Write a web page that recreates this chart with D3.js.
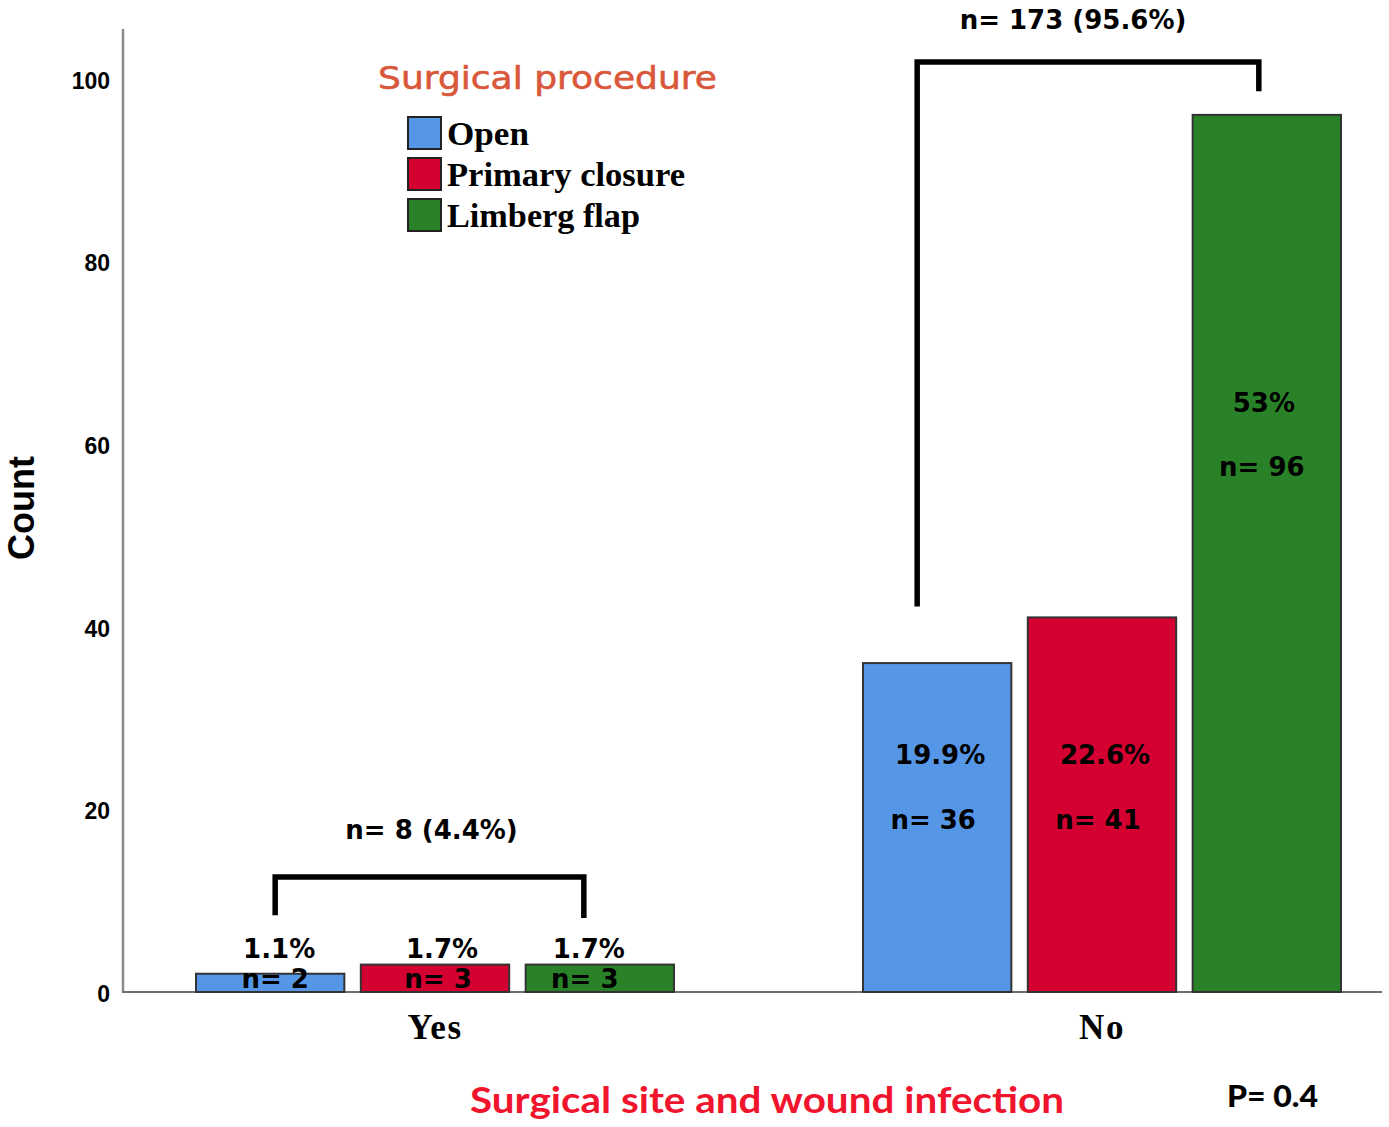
<!DOCTYPE html>
<html><head><meta charset="utf-8">
<script src="https://cdn.jsdelivr.net/npm/d3@7"></script>
<style>body{margin:0;background:#fff}svg{display:block}</style>
</head><body>
<svg id="c" width="1389" height="1127"></svg>
<script>
const groups = ["Yes", "No"];
const series = ["Open", "Primary closure", "Limberg flap"];
const counts = {
  "Yes": [2, 3, 3],
  "No": [36, 41, 96]
};
const percents = {
  "Yes": ["1.1%", "1.7%", "1.7%"],
  "No": ["19.9%", "22.6%", "53%"]
};
const groupTotals = ["n= 8 (4.4%)", "n= 173 (95.6%)"];
const yTicks = [0, 20, 40, 60, 80, 100];
const pValue = "P= 0.4";
const colors = ["#5596e6", "#d50032", "#2a8228"];

const svg = d3.select("#c");
const y = d3.scaleLinear().domain([0, 105.4]).range([992, 29]);
const x0 = d3.scalePoint().domain(groups).range([435, 1102]);
const x1 = d3.scaleBand().domain(series).range([-239, 239]).paddingInner(0.1);
const bw = x1.bandwidth();

// axes lines
svg.append("line").attr("x1", 123).attr("x2", 123).attr("y1", 29).attr("y2", 992)
  .attr("stroke", "#8a8a8a").attr("stroke-width", 2.5);
svg.append("line").attr("x1", 122).attr("x2", 1382).attr("y1", 992).attr("y2", 992)
  .attr("stroke", "#6e6e6e").attr("stroke-width", 2);

// y tick labels
const yAxis = d3.axisLeft(y).tickValues(yTicks).tickSize(0).tickPadding(13);
const ga = svg.append("g").attr("transform", "translate(123,0)").call(yAxis);
ga.select(".domain").remove();
ga.selectAll("text").attr("font-family", "'Liberation Sans', Arial, sans-serif")
  .attr("font-weight", "bold").attr("font-size", 23).attr("fill", "#000")
  .attr("dy", "0.42em");

// y title
svg.append("text").attr("transform", "translate(34,508) rotate(-90)")
  .attr("text-anchor", "middle").attr("font-family", "'Liberation Sans', Arial, sans-serif")
  .attr("font-weight", "bold").attr("font-size", 36).attr("fill", "#000").text("Count");

// bars
groups.forEach((g) => {
  series.forEach((s, si) => {
    const v = counts[g][si];
    svg.append("rect").attr("x", x0(g) + x1(s)).attr("y", y(v)).attr("width", bw)
      .attr("height", y(0) - y(v)).attr("fill", colors[si])
      .attr("stroke", "#333").attr("stroke-width", 2);
  });
});

// bar labels
const labFont = "'DejaVu Sans', Verdana, sans-serif";
function lab(x, yy, t, size) {
  svg.append("text").attr("x", x).attr("y", yy).attr("text-anchor", "middle")
    .attr("font-family", labFont).attr("font-weight", "bold")
    .attr("font-size", size || 26).attr("fill", "#000").text(t);
}
// Yes group: percent above the row of bars, n inside
const yesTop = d3.max(counts["Yes"]);
series.forEach((s, si) => {
  const cx = x0("Yes") + x1(s) + bw / 2;
  const v = counts["Yes"][si];
  const dxs = [9, 7, -11];
  lab(cx + dxs[si], y(yesTop) - 7, percents["Yes"][si]);
  lab(cx + dxs[si] - 4, y(0) - 4, "n= " + v);
});
// No group: labels inside bars
const pctAt = [26, 26, 64.6];
const nAt = [18.9, 18.9, 57.6];
series.forEach((s, si) => {
  const cx = x0("No") + x1(s) + bw / 2;
  const v = counts["No"][si];
  const dxs = [3, 3, -3];
  lab(cx + dxs[si], y(pctAt[si]) + 10, percents["No"][si]);
  lab(cx + dxs[si] - 7 + (si === 2 ? 5 : 0), y(nAt[si]) + 10, "n= " + v);
});

// brackets
function bracket(g, yTop, yL, yR, dl, dr, label, labelY, ldx) {
  const xl = x0(g) + x1(series[0]) + bw / 2 + dl;
  const xr = x0(g) + x1(series[2]) + bw / 2 + dr;
  svg.append("path")
    .attr("d", `M${xl},${y(yL)}V${y(yTop)}H${xr}V${y(yR)}`)
    .attr("fill", "none").attr("stroke", "#000").attr("stroke-width", 5.5);
  svg.append("text").attr("x", (xl + xr) / 2 + ldx).attr("y", y(labelY))
    .attr("text-anchor", "middle").attr("font-family", labFont)
    .attr("font-weight", "bold").attr("font-size", 26).attr("fill", "#000").text(label);
}
bracket("Yes", 12.6, 8.4, 8.1, 5, -16, groupTotals[0], 16.8, 2);
bracket("No", 101.8, 42.2, 98.6, -20, -8, groupTotals[1], 105.4, -15);

// category labels
groups.forEach(g => {
  svg.append("text").attr("x", x0(g)).attr("y", 1039).attr("text-anchor", "middle")
    .attr("font-family", "'Liberation Serif', 'Times New Roman', serif")
    .attr("font-weight", "bold").attr("font-size", 35).attr("letter-spacing", 1.5)
    .attr("fill", "#000").text(g);
});

// legend
svg.append("text").attr("x", 378).attr("y", 89)
  .attr("font-family", "'DejaVu Sans', Verdana, sans-serif").attr("font-size", 32)
  .attr("textLength", 339).attr("lengthAdjust", "spacingAndGlyphs")
  .attr("fill", "#d9573a").attr("stroke", "#d9573a").attr("stroke-width", 0.6)
  .text("Surgical procedure");
const legendLen = [82, 238, 193];
series.forEach((s, si) => {
  const yy = 117 + si * 41;
  svg.append("rect").attr("x", 408).attr("y", yy).attr("width", 33).attr("height", 32)
    .attr("fill", colors[si]).attr("stroke", "#222").attr("stroke-width", 2);
  svg.append("text").attr("x", 447).attr("y", yy + 28)
    .attr("font-family", "'Liberation Serif', 'Times New Roman', serif")
    .attr("font-weight", "bold").attr("font-size", 33)
    .attr("textLength", legendLen[si]).attr("lengthAdjust", "spacingAndGlyphs")
    .attr("fill", "#000").text(s);
});

// x title and p-value
svg.append("text").attr("x", 470).attr("y", 1113)
  .attr("font-family", "Lato, 'Open Sans', sans-serif").attr("font-weight", "bold")
  .attr("font-size", 36).attr("textLength", 594).attr("lengthAdjust", "spacingAndGlyphs")
  .attr("fill", "#f0142d").text("Surgical site and wound infection");
svg.append("text").attr("x", 1227).attr("y", 1107)
  .attr("font-family", "Lato, 'Open Sans', sans-serif").attr("font-weight", "900")
  .attr("font-size", 31).attr("textLength", 91).attr("lengthAdjust", "spacingAndGlyphs")
  .attr("fill", "#000").text(pValue);
</script>
</body></html>
